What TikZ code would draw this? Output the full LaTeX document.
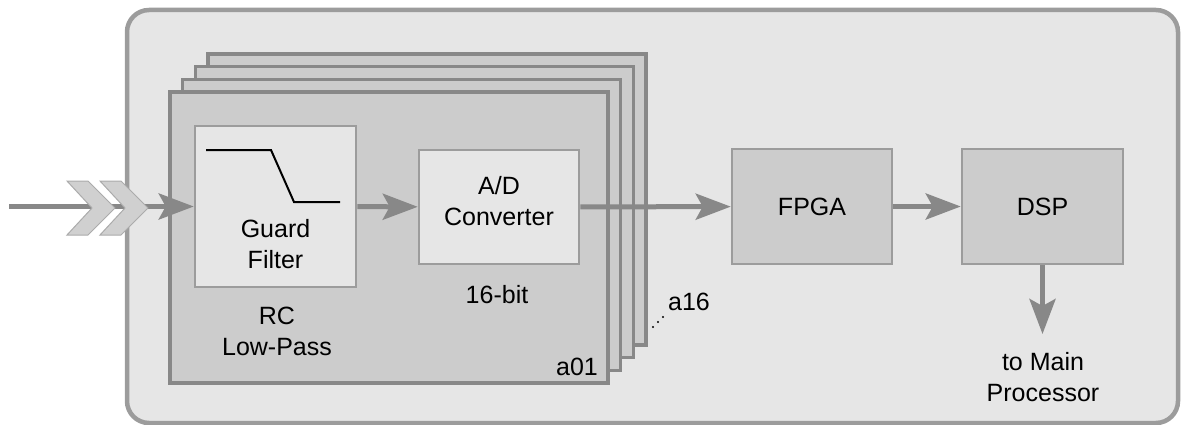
\documentclass[tikz,border=0pt]{standalone}
\usepackage{fontspec}
\setmainfont{Liberation Sans}
\usepackage{xcolor}
\usetikzlibrary{arrows.meta, positioning, calc}

\definecolor{boardfill}{HTML}{E6E6E6}
\definecolor{boardline}{HTML}{9C9C9C}
\definecolor{cardfill}{HTML}{CCCCCC}
\definecolor{cardline}{HTML}{888888}
\definecolor{flowgray}{HTML}{888888}
\definecolor{chevfill}{HTML}{D0D0D0}
\definecolor{chevline}{HTML}{ABABAB}

\begin{document}
\begin{tikzpicture}[
  x=1pt, y=-1pt,
  every node/.style={font=\fontsize{25}{31}\selectfont, align=center, inner sep=0pt},
  board/.style={draw=boardline, fill=boardfill, line width=4.5pt, rounded corners=22pt, minimum width=1051pt, minimum height=413pt},
  card/.style={draw=cardline, fill=cardfill, line width=3.5pt, minimum width=438pt, minimum height=291pt},
  inbox/.style={draw=boardline, fill=boardfill, line width=2.5pt},
  unit/.style={draw=boardline, fill=cardfill, line width=2.5pt, minimum width=160pt, minimum height=115pt},
  chev/.style={draw=chevline, fill=chevfill, line width=1pt},
  curve/.style={draw=black, line width=2pt},
  arrow/.style={-{Stealth[length=35pt, width=26pt, inset=7pt]}, line width=5pt, draw=flowgray}
]
  \useasboundingbox (0,0) rectangle (1182,425);

  % Board
  \node[board] (board) at (652.5,216.5) {};

  % Channel cards a01 .. a16
  \foreach \i in {3,2,1,0}
    \node[card] (card\i) at ({389+12.7*\i},{237.5-12.7*\i}) {};

  % Guard filter
  \node[inbox, minimum width=161pt, minimum height=161pt] (guard) at (275.5,206.5) {};
  \draw[curve] (206,150) -- (271,150) -- (294,202) -- (340,202);
  \node (guardtxt) at (275.5,244) {Guard\\Filter};
  \node (rc) at (277,331) {RC\\Low-Pass};

  % A/D converter
  \node[inbox, minimum width=160pt, minimum height=114pt] (adc) at (499,207) {};
  \node (adctxt) at (499,201) {A/D\\Converter};
  \node (bits) at (497,295) {16-bit};

  \node (a01) at (577,367) {a01};
  \node (a16) at (689,302) {a16};
  \foreach \k in {0,1,2}
    \fill ({653+5*\k},{327-5*\k}) circle (1.1pt);

  % FPGA and DSP
  \node[unit] (fpga) at (812,206.5) {FPGA};
  \node[unit, minimum width=161pt] (dsp) at (1042.5,206.5) {DSP};
  \node (main) at (1043,377.5) {to Main\\Processor};

  % Flow
  \coordinate (in) at (9,206.5);
  \coordinate (out) at (1042.5,334);
  \draw[arrow] (in) -- (guard.west);
  \foreach \x in {67,100}
    \draw[chev] (\x,181) -- ++(21,0) -- ++(27,27) -- ++(-27,27) -- ++(-21,0) -- ++(25,-27) -- cycle;
  \draw[arrow] (guard) -- (adc);
  \draw[arrow] (adc) -- (fpga);
  \draw[arrow] (fpga) -- (dsp);
  \draw[arrow] (dsp) -- (out);

\end{tikzpicture}
\end{document}
